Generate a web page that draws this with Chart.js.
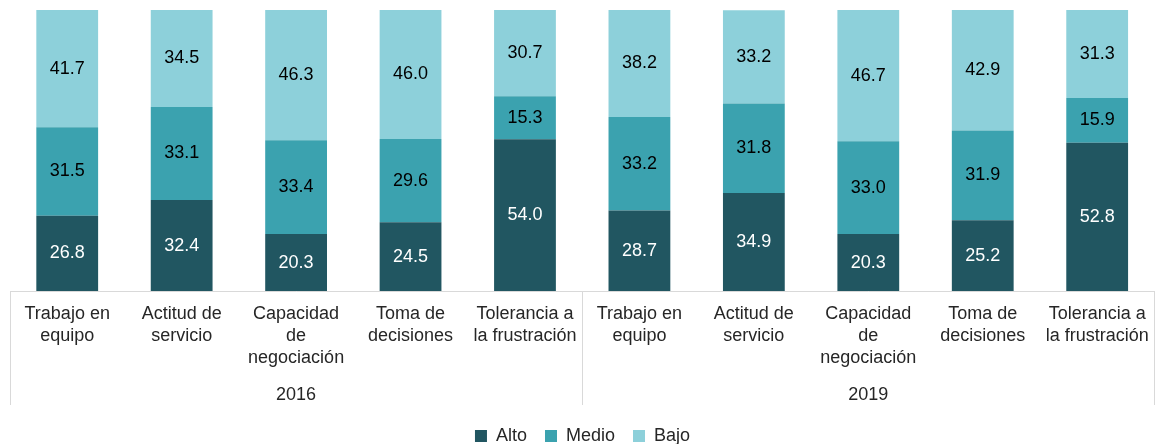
<!DOCTYPE html>
<html>
<head>
<meta charset="utf-8">
<script src="https://cdn.jsdelivr.net/npm/chart.js@4/dist/chart.umd.min.js"></script>
<style>
  html, body { margin: 0; padding: 0; background: #fff; }
  #wrap { width: 1161px; height: 444px; }
</style>
</head>
<body>
<div id="wrap"><canvas id="grafico"></canvas></div>
<script>
const categorias = [
    ['Trabajo en', 'equipo'], ['Actitud de', 'servicio'], ['Capacidad', 'de', 'negociación'], ['Toma de', 'decisiones'], ['Tolerancia a', 'la frustración'],
    ['Trabajo en', 'equipo'], ['Actitud de', 'servicio'], ['Capacidad', 'de', 'negociación'], ['Toma de', 'decisiones'], ['Tolerancia a', 'la frustración']
];
const anios = ['2016', '2019'];
const alto = [26.8, 32.4, 20.3, 24.5, 54.0, 28.7, 34.9, 20.3, 25.2, 52.8];
const medio = [31.5, 33.1, 33.4, 29.6, 15.3, 33.2, 31.8, 33.0, 31.9, 15.9];
const bajo = [41.7, 34.5, 46.3, 46.0, 30.7, 38.2, 33.2, 46.7, 42.9, 31.3];

const colores = { alto: '#215661', medio: '#3BA2AF', bajo: '#8DD0DA' };
const textoColor = '#262626';
const fuente = "'Liberation Sans', Arial, sans-serif";

// etiquetas de valor dentro de cada segmento
const etiquetasPlugin = {
    id: 'etiquetas',
    afterDatasetsDraw(chart) {
        const ctx = chart.ctx;
        ctx.save();
        ctx.font = '18px ' + fuente;
        ctx.textAlign = 'center';
        ctx.textBaseline = 'middle';
        chart.data.datasets.forEach((ds, i) => {
            const meta = chart.getDatasetMeta(i);
            meta.data.forEach((bar, j) => {
                const p = bar.getCenterPoint();
                ctx.fillStyle = i === 0 ? '#ffffff' : '#000000';
                ctx.fillText(ds.data[j].toFixed(1), p.x, p.y);
            });
        });
        ctx.restore();
    }
};

// líneas separadoras entre años
const separadoresPlugin = {
    id: 'separadores',
    afterDraw(chart) {
        const ctx = chart.ctx;
        const x = chart.scales.x;
        const x2 = chart.scales.x2;
        const paso = (x.right - x.left) / categorias.length;
        ctx.save();
        ctx.strokeStyle = '#d9d9d9';
        ctx.lineWidth = 1;
        [0, 5, 10].forEach(k => {
            const px = Math.round(x.left + paso * k) + 0.5;
            ctx.beginPath();
            ctx.moveTo(px, chart.chartArea.bottom);
            ctx.lineTo(px, x2.bottom - 4);
            ctx.stroke();
        });
        ctx.restore();
    }
};

new Chart(document.getElementById('grafico'), {
    type: 'bar',
    data: {
        labels: categorias,
        datasets: [
            { label: 'Alto', data: alto, backgroundColor: colores.alto },
            { label: 'Medio', data: medio, backgroundColor: colores.medio },
            { label: 'Bajo', data: bajo, backgroundColor: colores.bajo }
        ]
    },
    options: {
        responsive: true,
        maintainAspectRatio: false,
        animation: false,
        datasets: { bar: { categoryPercentage: 1, barPercentage: 0.54 } },
        layout: { padding: { left: 10, right: 6, top: 10, bottom: -11 } },
        scales: {
            x: {
                stacked: true,
                grid: { display: false, drawTicks: false },
                border: { display: true, color: '#d9d9d9', width: 1 },
                ticks: { color: textoColor, font: { family: fuente, size: 18, lineHeight: 1.22 }, maxRotation: 0, autoSkip: false, padding: 12 }
            },
            x2: {
                type: 'category',
                labels: anios,
                offset: true,
                position: 'bottom',
                grid: { display: false, drawTicks: false },
                border: { display: false },
                ticks: { color: textoColor, font: { family: fuente, size: 18, lineHeight: 2.0 }, padding: -4 }
            },
            y: {
                stacked: true,
                min: 0,
                max: 100,
                display: false
            }
        },
        plugins: {
            legend: {
                position: 'bottom',
                labels: { color: textoColor, font: { family: fuente, size: 18 }, boxWidth: 12, boxHeight: 12, padding: 18 }
            },
            tooltip: { enabled: false }
        }
    },
    plugins: [etiquetasPlugin, separadoresPlugin]
});
</script>
</body>
</html>
